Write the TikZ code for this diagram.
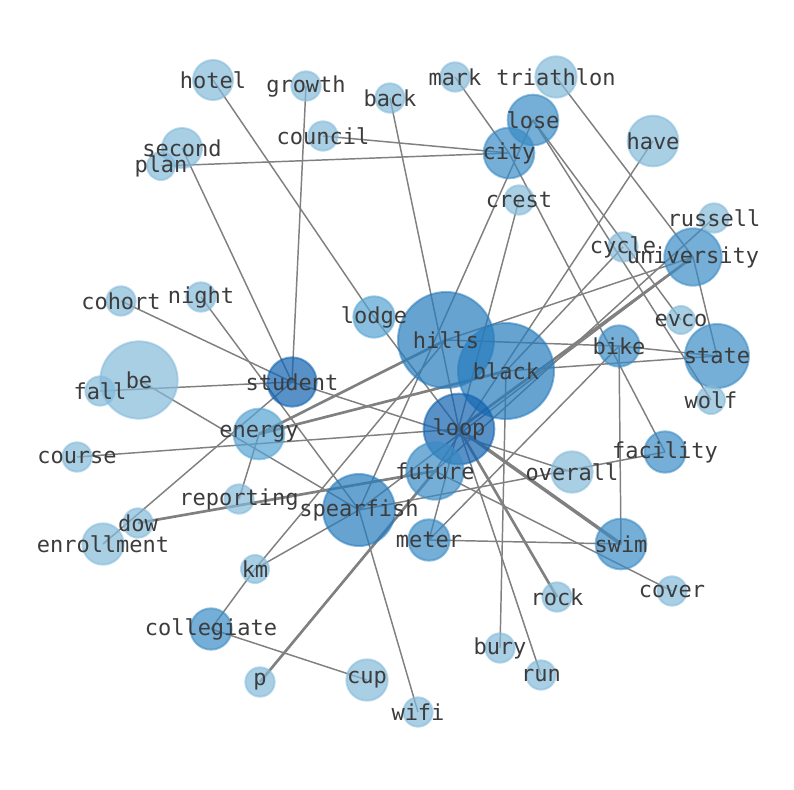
\documentclass[tikz,border=0pt]{standalone}
\usepackage{fontspec}
\setmonofont{DejaVu Sans Mono}
\usetikzlibrary{backgrounds}
\definecolor{paleblue}{RGB}{132,186,218}
\definecolor{softblue}{RGB}{86,164,211}
\definecolor{midblue}{RGB}{58,139,196}
\definecolor{deepblue}{RGB}{39,124,189}
\definecolor{darkblue}{RGB}{16,99,176}
\definecolor{wordgray}{RGB}{60,60,60}
\definecolor{linkgray}{RGB}{128,128,128}
\begin{document}
\begin{tikzpicture}[x=0.75pt,y=-0.75pt,
    word_node/.style={circle,inner sep=0pt,fill opacity=0.7,draw opacity=0.55,line width=1.5pt},
    pale/.style={word_node,fill=paleblue,draw=paleblue},
    soft/.style={word_node,fill=softblue,draw=softblue},
    mid/.style={word_node,fill=midblue,draw=midblue},
    deep/.style={word_node,fill=deepblue,draw=deepblue},
    dark/.style={word_node,fill=darkblue,draw=darkblue},
    word/.style={font=\fontsize{16.5}{18}\selectfont\ttfamily,text=wordgray,inner sep=0pt},
    link/.style={draw=linkgray,line width=1.1pt},
    heavy/.style={draw=linkgray,line width=2pt},
    heavier/.style={draw=linkgray,line width=2.6pt}]
\useasboundingbox (0,0) rectangle (794,790);

% circles
\node[pale,minimum size=30pt] (hotel) at (213,80) {};
\node[pale,minimum size=22pt] (growth) at (306,86) {};
\node[pale,minimum size=22pt] (back) at (390,98) {};
\node[pale,minimum size=22pt] (mark) at (455,77) {};
\node[pale,minimum size=31pt] (triathlon) at (556,77) {};
\node[mid,minimum size=38pt] (lose) at (533,120) {};
\node[mid,minimum size=38pt] (city) at (509,153) {};
\node[pale,minimum size=22pt] (council) at (323,136) {};
\node[pale,minimum size=30pt] (second) at (182,148) {};
\node[pale,minimum size=21pt] (plan) at (161,166) {};
\node[pale,minimum size=38pt] (have) at (653,141) {};
\node[pale,minimum size=22pt] (crest) at (519,200) {};
\node[pale,minimum size=22pt] (russell) at (714,218) {};
\node[pale,minimum size=22pt] (cycle) at (623,247) {};
\node[mid,minimum size=43pt] (university) at (693,257) {};
\node[pale,minimum size=22pt] (cohort) at (121,301) {};
\node[pale,minimum size=22pt] (night) at (201,297) {};
\node[soft,minimum size=31pt] (lodge) at (374,317) {};
\node[deep,minimum size=72pt] (hills) at (446,340) {};
\node[deep,minimum size=72pt] (black) at (506,371) {};
\node[pale,minimum size=21pt] (evco) at (681,320) {};
\node[mid,minimum size=31pt] (bike) at (619,346) {};
\node[mid,minimum size=48pt] (state) at (717,356) {};
\node[pale,minimum size=21pt] (wolf) at (711,400) {};
\node[pale,minimum size=58pt] (be) at (139,380) {};
\node[pale,minimum size=22pt] (fall) at (100,391) {};
\node[dark,minimum size=37pt] (student) at (292,382) {};
\node[soft,minimum size=38pt] (energy) at (259,434) {};
\node[dark,minimum size=53pt] (loop) at (459,429) {};
\node[pale,minimum size=22pt] (course) at (77,457) {};
\node[mid,minimum size=43pt] (future) at (435,471) {};
\node[pale,minimum size=31pt] (overall) at (572,472) {};
\node[mid,minimum size=31pt] (facility) at (665,452) {};
\node[pale,minimum size=22pt] (reporting) at (239,499) {};
\node[deep,minimum size=54pt] (spearfish) at (359,510) {};
\node[pale,minimum size=22pt] (dow) at (138,523) {};
\node[pale,minimum size=31pt] (enrollment) at (103,544) {};
\node[mid,minimum size=31pt] (meter) at (429,540) {};
\node[mid,minimum size=38pt] (swim) at (621,544) {};
\node[pale,minimum size=21pt] (km) at (255,569) {};
\node[pale,minimum size=22pt] (cover) at (672,591) {};
\node[pale,minimum size=22pt] (rock) at (557,597) {};
\node[mid,minimum size=31pt] (collegiate) at (211,629) {};
\node[pale,minimum size=22pt] (bury) at (500,648) {};
\node[pale,minimum size=22pt] (run) at (541,675) {};
\node[pale,minimum size=22pt] (p) at (260,682) {};
\node[pale,minimum size=31pt] (cup) at (367,680) {};
\node[pale,minimum size=22pt] (wifi) at (418,712) {};

% links, under the circles
\begin{scope}[on background layer]
\draw[link] (hotel.center) -- (lodge.center) -- (loop.center);
\draw[link] (growth.center) -- (student.center);
\draw[link] (second.center) -- (student.center);
\draw[link] (plan.center) -- (city.center);
\draw[link] (council.center) -- (city.center);
\draw[link] (back.center) -- (loop.center);
\draw[link] (mark.center) -- (city.center) -- (facility.center);
\draw[link] (triathlon.center) -- (university.center) -- (state.center);
\draw[link] (lose.center) -- (evco.center);
\draw[link] (lose.center) -- (wolf.center);
\draw[link] (lose.center) -- (spearfish.center);
\draw[link] (have.center) -- (future.center);
\draw[link] (crest.center) -- (meter.center);
\draw[link] (cohort.center) -- (student.center) -- (overall.center);
\draw[link] (night.center) -- (spearfish.center) -- (wifi.center);
\draw[link] (be.center) -- (spearfish.center);
\draw[link] (fall.center) -- (student.center) -- (enrollment.center);
\draw[link] (course.center) -- (loop.center);
\draw[heavy] (energy.center) -- (hills.center);
\draw[heavy] (energy.center) -- (black.center);
\draw[link] (energy.center) -- (reporting.center);
\draw[heavy] (dow.center) -- (future.center);
\draw[link] (spearfish.center) -- (facility.center);
\draw[link] (collegiate.center) -- (km.center) -- (spearfish.center);
\draw[link] (km.center) -- (hills.center);
\draw[link] (collegiate.center) -- (cup.center);
\draw[heavy] (p.center) -- (future.center);
\draw[link] (meter.center) -- (bike.center);
\draw[link] (hills.center) -- (bike.center) -- (state.center);
\draw[link] (black.center) -- (state.center);
\draw[link] (bike.center) -- (swim.center) -- (meter.center);
\draw[link] (run.center) -- (loop.center);
\draw[link] (bury.center) -- (black.center);
\draw[heavy] (loop.center) -- (rock.center);
\draw[link] (cover.center) -- (future.center);
\draw[heavier] (loop.center) -- (swim.center);
\draw[link] (russell.center) -- (future.center);
\draw[link] (university.center) -- (hills.center);
\draw[heavy] (university.center) -- (loop.center);
\draw[link] (university.center) -- (spearfish.center);
\draw[link] (cycle.center) -- (black.center);
\end{scope}

% words
\node[word] (t-hotel) at (hotel) {hotel};
\node[word] (t-growth) at (growth) {growth};
\node[word] (t-back) at (back) {back};
\node[word] (t-mark) at (mark) {mark};
\node[word] (t-triathlon) at (triathlon) {triathlon};
\node[word] (t-lose) at (lose) {lose};
\node[word] (t-city) at (city) {city};
\node[word] (t-council) at (council) {council};
\node[word] (t-second) at (second) {second};
\node[word] (t-plan) at (plan) {plan};
\node[word] (t-have) at (have) {have};
\node[word] (t-crest) at (crest) {crest};
\node[word] (t-russell) at (russell) {russell};
\node[word] (t-cycle) at (cycle) {cycle};
\node[word] (t-university) at (university) {university};
\node[word] (t-cohort) at (cohort) {cohort};
\node[word] (t-night) at (night) {night};
\node[word] (t-lodge) at (lodge) {lodge};
\node[word] (t-hills) at (hills) {hills};
\node[word] (t-black) at (black) {black};
\node[word] (t-evco) at (evco) {evco};
\node[word] (t-bike) at (bike) {bike};
\node[word] (t-state) at (state) {state};
\node[word] (t-wolf) at (wolf) {wolf};
\node[word] (t-be) at (be) {be};
\node[word] (t-fall) at (fall) {fall};
\node[word] (t-student) at (student) {student};
\node[word] (t-energy) at (energy) {energy};
\node[word] (t-loop) at (loop) {loop};
\node[word] (t-course) at (course) {course};
\node[word] (t-future) at (future) {future};
\node[word] (t-overall) at (overall) {overall};
\node[word] (t-facility) at (facility) {facility};
\node[word] (t-reporting) at (reporting) {reporting};
\node[word] (t-spearfish) at (spearfish) {spearfish};
\node[word] (t-dow) at (dow) {dow};
\node[word] (t-enrollment) at (enrollment) {enrollment};
\node[word] (t-meter) at (meter) {meter};
\node[word] (t-swim) at (swim) {swim};
\node[word] (t-km) at (km) {km};
\node[word] (t-cover) at (cover) {cover};
\node[word] (t-rock) at (rock) {rock};
\node[word] (t-collegiate) at (collegiate) {collegiate};
\node[word] (t-bury) at (bury) {bury};
\node[word] (t-run) at (run) {run};
\node[word] (t-p) at (p) {p};
\node[word] (t-cup) at (cup) {cup};
\node[word] (t-wifi) at (wifi) {wifi};
\end{tikzpicture}
\end{document}
